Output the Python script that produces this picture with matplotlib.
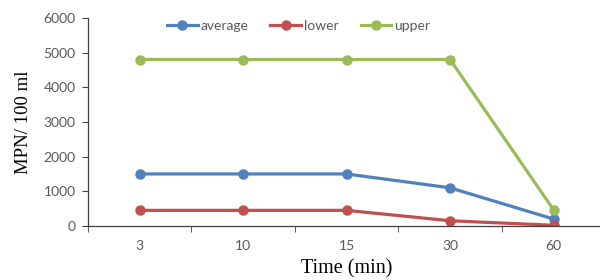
import matplotlib
matplotlib.use('Agg')
import matplotlib.pyplot as plt
import numpy as np

# Data
times = ['3', '10', '15', '30', '60']
average = [1500, 1500, 1500, 1100, 200]
lower = [450, 450, 450, 150, 20]
upper = [4800, 4800, 4800, 4800, 470]

plt.rcParams['font.family'] = ['Lato', 'DejaVu Sans']

fig = plt.figure(figsize=(6, 2.8), dpi=100)
ax = fig.add_axes([0.1467, 0.193, 0.862, 0.743])

x = np.arange(len(times))
ax.plot(x, average, color='#4F81BD', lw=2.3, marker='o', ms=6.5, label='average')
ax.plot(x, lower, color='#C0504D', lw=2.3, marker='o', ms=6.5, label='lower')
ax.plot(x, upper, color='#9BBB59', lw=2.3, marker='o', ms=6.5, label='upper')

ax.set_xlim(-0.5, len(times) - 0.5)
ax.set_ylim(0, 6000)
ax.set_yticks(range(0, 6001, 1000))
ax.set_xticks(x)
ax.set_xticklabels(times)
ax.set_xticks(np.arange(-0.5, len(times), 1), minor=True)
ax.tick_params(axis='x', which='major', length=0, pad=10)
ax.tick_params(axis='x', which='minor', length=4, color='#404040')
ax.tick_params(axis='y', length=4, color='#404040', pad=5)
ax.tick_params(labelsize=10, labelcolor='#595959')

for side in ['top', 'right']:
    ax.spines[side].set_visible(False)
for side in ['left', 'bottom']:
    ax.spines[side].set_color('#404040')
    ax.spines[side].set_linewidth(0.9)

ax.set_ylabel('MPN/ 100 ml', family='Liberation Serif', fontsize=13.5, labelpad=8)
ax.set_xlabel('Time (min)', family='Liberation Serif', fontsize=14.5, labelpad=5)

leg = ax.legend(loc='upper center', bbox_to_anchor=(0.407, 1.05), ncol=3, frameon=False,
                fontsize=10, handlelength=2.2, handletextpad=0.2, columnspacing=1.6)
for t in leg.get_texts():
    t.set_color('#595959')

fig.savefig('out.png', dpi=100)
